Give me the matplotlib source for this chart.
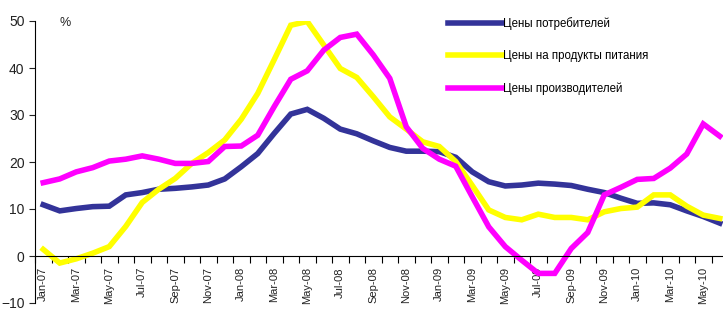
import matplotlib
matplotlib.use("Agg")
import matplotlib.pyplot as plt
import numpy as np

plt.rcParams['font.family'] = ['Liberation Sans', 'DejaVu Sans']

months = ["Jan-07", "Feb-07", "Mar-07", "Apr-07", "May-07", "Jun-07", "Jul-07", "Aug-07", "Sep-07", "Oct-07", "Nov-07", "Dec-07",
          "Jan-08", "Feb-08", "Mar-08", "Apr-08", "May-08", "Jun-08", "Jul-08", "Aug-08", "Sep-08", "Oct-08", "Nov-08", "Dec-08",
          "Jan-09", "Feb-09", "Mar-09", "Apr-09", "May-09", "Jun-09", "Jul-09", "Aug-09", "Sep-09", "Oct-09", "Nov-09", "Dec-09",
          "Jan-10", "Feb-10", "Mar-10", "Apr-10", "May-10", "Jun-10"]

consumer = [10.9, 9.6, 10.1, 10.5, 10.6, 13.0, 13.5, 14.2, 14.4, 14.7, 15.1, 16.4,
            19.0, 21.8, 26.1, 30.2, 31.2, 29.3, 27.0, 26.0, 24.5, 23.1, 22.3, 22.3,
            22.2, 21.0, 17.9, 15.8, 14.9, 15.1, 15.5, 15.3, 15.0, 14.2, 13.5, 12.3,
            11.2, 11.3, 10.9, 9.6, 8.4, 7.0]

food = [1.4, -1.5, -0.6, 0.6, 2.0, 6.3, 11.4, 14.2, 16.5, 19.7, 22.0, 24.7,
        29.1, 34.6, 41.8, 49.1, 49.9, 44.9, 39.9, 38.0, 33.9, 29.6, 27.0, 24.3,
        23.3, 20.1, 15.0, 9.8, 8.2, 7.7, 8.9, 8.2, 8.2, 7.7, 9.4, 10.1,
        10.4, 13.0, 13.0, 10.6, 8.7, 8.0]

producer = [15.6, 16.4, 17.9, 18.8, 20.2, 20.6, 21.3, 20.6, 19.7, 19.7, 20.1, 23.3,
            23.4, 25.7, 31.8, 37.6, 39.4, 43.8, 46.5, 47.2, 42.8, 37.8, 27.5, 22.9,
            20.6, 19.1, 12.6, 6.2, 2.0, -0.9, -3.7, -3.7, 1.6, 5.0, 13.0, 14.6,
            16.3, 16.5, 18.7, 21.7, 28.1, 25.5]

labels = ["Цены потребителей", "Цены на продукты питания", "Цены производителей"]
colors = ["#333399", "#FFFF00", "#FF00FF"]

fig = plt.figure(figsize=(7.23, 3.11), dpi=100)
ax = fig.add_axes([35/723, 1 - 303/311, 693/723, (303 - 21)/311])

x = np.arange(len(months))
for series, lab, col in zip([consumer, food, producer], labels, colors):
    ax.plot(x, series, color=col, lw=4, label=lab, solid_joinstyle='miter')

ax.set_xlim(-0.5, len(months) - 0.5)
ax.set_ylim(-10, 50)
ax.set_yticks([-10, 0, 10, 20, 30, 40, 50])
ax.tick_params(axis='y', direction='out', length=4, labelsize=10, colors='#222222', width=0.8)

ax.spines['top'].set_visible(False)
ax.spines['right'].set_visible(False)
ax.spines['bottom'].set_position(('data', 0))
ax.spines['left'].set_linewidth(0.8)
ax.spines['bottom'].set_linewidth(0.8)

ax.set_xticks(x[::2])
ax.set_xticklabels(months[::2], rotation=90, fontsize=8, color='#222222')
ax.set_xticks(np.arange(len(months) + 1) - 0.5, minor=True)
ax.tick_params(axis='x', which='major', length=0, pad=8)
ax.tick_params(axis='x', which='minor', length=5, direction='out', width=0.8)

ax.text(0.036, 0.993, "%", transform=ax.transAxes, fontsize=9, ha='left', va='center', color='#222222')

fig.legend(loc='upper left', bbox_to_anchor=(448/723, 1 - 17/311), frameon=False,
           fontsize=8.3, handlelength=4.7, handletextpad=0.1, labelspacing=1.75,
           borderpad=0, borderaxespad=0)

fig.savefig("out.png", dpi=100)
